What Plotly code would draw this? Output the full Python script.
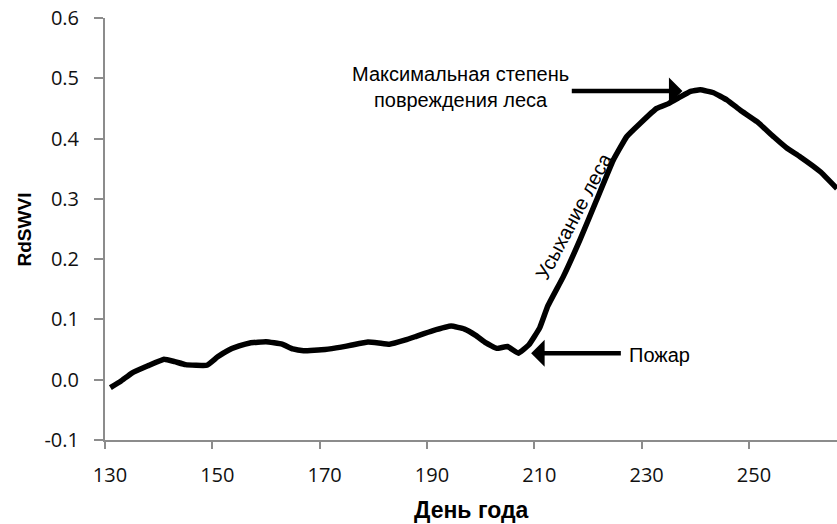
import plotly.graph_objects as go

day = [131, 133, 135, 138, 141, 143, 145, 149, 151, 153, 155, 157, 160, 163, 165, 167,
       171, 174, 176, 179, 181, 183, 186, 188, 191, 194.5, 197, 199, 201, 203, 205, 207,
       209, 211, 212.5, 215.4, 218.5, 221.6, 224.7, 227.2, 229.7, 232.8, 235, 237.2, 239,
       240.9, 243.4, 245.9, 248.4, 251.5, 254.6, 257.1, 259.5, 263.3, 266.4]
rdswvi = [-0.013, -0.002, 0.011, 0.023, 0.034, 0.030, 0.025, 0.024, 0.038, 0.049, 0.056,
          0.061, 0.063, 0.059, 0.051, 0.048, 0.050, 0.054, 0.0575, 0.0625, 0.061, 0.059,
          0.066, 0.072, 0.081, 0.089, 0.084, 0.074, 0.061, 0.052, 0.055, 0.044, 0.058,
          0.086, 0.122, 0.171, 0.232, 0.298, 0.364, 0.403, 0.425, 0.450, 0.458, 0.469,
          0.478, 0.481, 0.476, 0.464, 0.447, 0.428, 0.403, 0.384, 0.370, 0.345, 0.317]

x_ticks = [130, 150, 170, 190, 210, 230, 250]
y_ticks = [-0.1, 0.0, 0.1, 0.2, 0.3, 0.4, 0.5, 0.6]
y_tick_text = ["-0.1", "0.0", "0.1", "0.2", "0.3", "0.4", "0.5", "0.6"]

fig = go.Figure()
fig.add_trace(go.Scatter(x=day, y=rdswvi, mode="lines",
                         line=dict(color="black", width=5.5, shape="spline", smoothing=0.3),
                         showlegend=False, hoverinfo="skip"))

axis_col = "#8c8c8c"
tick_font = dict(family="Open Sans", size=20, color="#111111")

fig.update_layout(
    width=837, height=524,
    margin=dict(l=105, r=0, t=18, b=84),
    paper_bgcolor="white", plot_bgcolor="white",
    xaxis=dict(range=[130, 266.4], tickvals=x_ticks, ticks="outside", ticklen=7,
               tickwidth=2, tickcolor=axis_col, showline=True, linecolor=axis_col,
               linewidth=2, showgrid=False, zeroline=False, tickfont=tick_font,
               ticklabelshift=5, ticklabelstandoff=9),
    yaxis=dict(range=[-0.1, 0.6], tickvals=y_ticks, ticktext=y_tick_text,
               ticks="outside", ticklen=9, tickwidth=2, tickcolor=axis_col,
               showline=True, linecolor=axis_col, linewidth=2, showgrid=False,
               zeroline=False, tickfont=tick_font, ticklabelstandoff=11),
)

ann_font = dict(family="Liberation Sans", size=20, color="black")

# axis titles
fig.add_annotation(text="<b>RdSWVI</b>", xref="paper", yref="paper", x=-0.11, y=0.5,
                   xanchor="center", yanchor="middle", textangle=-90, showarrow=False,
                   font=dict(family="Liberation Sans", size=19, color="black"))
fig.add_annotation(text="<b>День года</b>", xref="paper", yref="paper", x=0.5, y=0,
                   xanchor="center", yanchor="middle", yshift=-70, showarrow=False,
                   font=dict(family="Liberation Sans", size=23, color="black"))

# labels
fig.add_annotation(text="Максимальная степень<br>повреждения леса", x=196.2, y=0.486,
                   xanchor="center", yanchor="middle", showarrow=False, font=ann_font)
fig.add_annotation(text="Пожар", x=227.3, y=0.041, xanchor="left", yanchor="middle",
                   showarrow=False, font=ann_font)
fig.add_annotation(text="Усыхание леса", x=217.4, y=0.271, xanchor="center",
                   yanchor="middle", textangle=-62, showarrow=False, font=ann_font)

# arrows
fig.add_annotation(text="", x=237.6, y=0.479, ax=216.7, ay=0.479, axref="x", ayref="y",
                   showarrow=True, arrowhead=1, arrowsize=1.0, arrowwidth=4.5,
                   arrowcolor="black")
fig.add_annotation(text="", x=209.4, y=0.044, ax=226.4, ay=0.044, axref="x", ayref="y",
                   showarrow=True, arrowhead=1, arrowsize=1.0, arrowwidth=4.5,
                   arrowcolor="black")

fig.write_html("out.html")
